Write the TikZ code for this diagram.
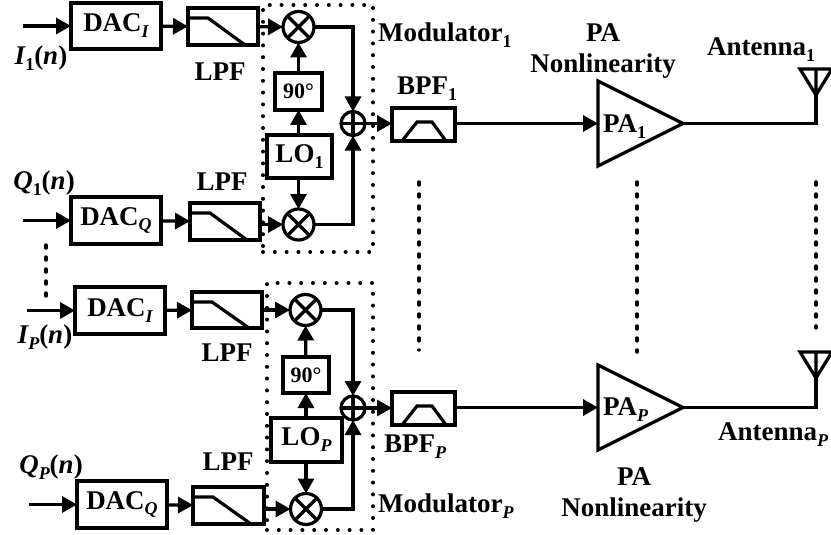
\documentclass[tikz,border=0pt]{standalone}
\usepackage{fontspec}
\setmainfont{Liberation Serif}
\usetikzlibrary{arrows.meta,shapes.geometric}
\newcommand{\lowsub}[1]{\raisebox{-0.22em}{\fontsize{18}{18}\selectfont #1}}
\newcommand{\itsub}[1]{\lowsub{\itshape #1}}
\newcommand{\lpfcurve}[1]{\draw[wire,miter limit=2] ([yshift=-10pt]#1.north west) -- ++(20,0) -- ([xshift=-13pt]#1.south east);}
\newcommand{\bpfcurve}[1]{\draw[wire] ([xshift=10pt]#1.south west) -- ++(15,-19) -- ++(15,0) -- ++(14,19);}
\newcommand{\mixmark}[1]{\draw[wire] (#1.45) -- (#1.225) (#1.135) -- (#1.315);}
\newcommand{\summark}[1]{\draw[wire] (#1.north) -- (#1.south) (#1.west) -- (#1.east);}
\newcommand{\antmark}[1]{\draw[wire,line join=miter] (#1) -- ++(-16,-26) -- ++(32,0) -- cycle (#1) -- ++(0,-26);}
\tikzset{
  wire/.style={line width=3.2pt},
  flow/.style={wire,-{Triangle[length=15pt,width=16pt]}},
  bx/.style 2 args={draw,line width=3.4pt,inner sep=0pt,outer sep=0pt,minimum width=#1 pt,minimum height=#2 pt,font=\fontsize{27}{30}\selectfont\bfseries},
  mix/.style={draw,circle,line width=3.2pt,inner sep=0pt,outer sep=0pt,minimum size=31pt},
  summ/.style={draw,circle,line width=3.2pt,inner sep=0pt,outer sep=0pt,minimum size=24pt},
  amp/.style={draw,isosceles triangle,isosceles triangle stretches,line width=3.2pt,inner sep=0pt,outer sep=0pt,minimum width=85pt,minimum height=85pt,anchor=lower side},
  modbox/.style={draw,line width=4pt,line cap=round,dash pattern=on 0pt off 11.8pt,inner sep=0pt,outer sep=0pt},
  vdots/.style={line width=3.4pt,line cap=round,dash pattern=on 3pt off 9pt},
  lab/.style={inner sep=0pt,font=\fontsize{27}{30}\selectfont\bfseries,align=center},
}
\begin{document}
\begin{tikzpicture}[x=1pt,y=-1pt]
\useasboundingbox (0,0) rectangle (831,535);
% modulators
\node[modbox,minimum width=110pt,minimum height=247pt] (modA) at (318,128.5) {};
\node[modbox,minimum width=106pt,minimum height=247pt] (modB) at (320,406.5) {};
% chain 1
\coordinate (inA) at (23,26);
\coordinate (inB) at (23,220.5);
\node[bx={90}{46}] (dacA) at (116,26) {DAC\itsub{I}};
\node[bx={70}{37}] (lpfA) at (223,26.5) {};
\node[bx={90}{47}] (dacB) at (116,220.5) {DAC\itsub{Q}};
\node[bx={70}{37}] (lpfB) at (225,221.5) {};
\node[mix] (mxA) at (298.5,27) {};
\node[mix] (mxB) at (298.5,224.5) {};
\node[bx={47}{37}] (phA) at (298.5,91.5) {\fontsize{22}{26}\selectfont 90°};
\node[bx={65}{43}] (loA) at (299.5,156.5) {LO\lowsub{1}};
\node[summ] (smA) at (353,123.5) {};
\node[bx={63}{33}] (bpA) at (423.5,124.5) {};
\node[amp] (paA) at (598,123.5) {};
\coordinate (antA) at (816,95);
% chain P
\coordinate (inC) at (27,310.5);
\coordinate (inD) at (29,504.5);
\node[bx={90}{47}] (dacC) at (120,310.5) {DAC\itsub{I}};
\node[bx={70}{36}] (lpfC) at (227,310) {};
\node[bx={90}{47}] (dacD) at (122,504.5) {DAC\itsub{Q}};
\node[bx={71}{37}] (lpfD) at (228.5,505.5) {};
\node[mix] (mxC) at (305.5,310) {};
\node[mix] (mxD) at (306,509) {};
\node[bx={46}{36}] (phB) at (306,375) {\fontsize{22}{26}\selectfont 90°};
\node[bx={71}{44}] (loB) at (306.5,440) {LO\itsub{P}};
\node[summ] (smB) at (353,408) {};
\node[bx={63}{33}] (bpB) at (423.5,408.5) {};
\node[amp] (paB) at (598,407.5) {};
\coordinate (antB) at (816,378);
% marks inside blocks
\lpfcurve{lpfA}\lpfcurve{lpfB}\lpfcurve{lpfC}\lpfcurve{lpfD}
\bpfcurve{bpA}\bpfcurve{bpB}
\mixmark{mxA}\mixmark{mxB}\mixmark{mxC}\mixmark{mxD}
\summark{smA}\summark{smB}
\antmark{antA}\antmark{antB}
% connectors chain 1
\draw[flow] (inA) -- (dacA);
\draw[flow] (dacA) -- (lpfA);
\draw[flow] (lpfA) -- (mxA);
\draw[flow] (inB) -- (dacB);
\draw[flow] (dacB) -- (lpfB);
\draw[flow] (lpfB.east |- mxB) -- (mxB);
\draw[flow] (phA) -- (mxA);
\draw[flow] (phA |- loA.north) -- (phA);
\draw[flow] (mxB |- loA.south) -- (mxB);
\draw[flow] (mxA.east) -| (smA.north);
\draw[flow] (mxB.east) -| (smA.south);
\draw[flow] (smA.east) -- (bpA.west |- smA);
\draw[flow] (bpA.east |- paA.lower side) -- (paA.lower side);
\draw[wire] (paA.apex) -| (antA);
% connectors chain P
\draw[flow] (inC) -- (dacC);
\draw[flow] (dacC) -- (lpfC);
\draw[flow] (lpfC) -- (mxC);
\draw[flow] (inD) -- (dacD);
\draw[flow] (dacD) -- (lpfD);
\draw[flow] (lpfD.east |- mxD) -- (mxD);
\draw[flow] (phB) -- (mxC);
\draw[flow] (phB |- loB.north) -- (phB);
\draw[flow] (mxD |- loB.south) -- (mxD);
\draw[flow] (mxC.east) -| (smB.north);
\draw[flow] (mxD.east) -| (smB.south);
\draw[flow] (smB.east) -- (bpB.west |- smB);
\draw[flow] (bpB.east |- paB.lower side) -- (paB.lower side);
\draw[wire] (paB.apex) -| (antB);
% vertical ellipses
\draw[vdots] (46,245) -- (46,297);
\draw[vdots] (419,182) -- (419,350);
\draw[vdots] (637,182) -- (637,352);
\draw[vdots] (816,182) -- (816,328);
% labels
\node[lab] (tI1) at (41,58) {{\itshape I}\lowsub{1}({\itshape n})};
\node[lab] (tQ1) at (44,183) {{\itshape Q}\lowsub{1}({\itshape n})};
\node[lab] (tIP) at (45,337) {{\itshape I}\itsub{P}({\itshape n})};
\node[lab] (tQP) at (51,467) {{\itshape Q}\itsub{P}({\itshape n})};
\node[lab] (tL1) at (220,72) {LPF};
\node[lab] (tL2) at (222,182) {LPF};
\node[lab] (tL3) at (227,353) {LPF};
\node[lab] (tL4) at (228,462) {LPF};
\node[lab,anchor=west] (tM1) at (378,35) {Modulator\lowsub{1}};
\node[lab,anchor=west] (tMP) at (378,506) {Modulator\itsub{P}};
\node[lab,anchor=west] (tB1) at (397,89) {BPF\lowsub{1}};
\node[lab,anchor=west] (tBP) at (384,447) {BPF\itsub{P}};
\node[lab] (tPA1) at (603,33) {PA};
\node[lab] (tNL1) at (603,66) {Nonlinearity};
\node[lab] (tPA2) at (634,477) {PA};
\node[lab] (tNL2) at (634,510) {Nonlinearity};
\node[lab,anchor=west] (tA1) at (603,127) {PA\lowsub{1}};
\node[lab,anchor=west] (tAP) at (603,410) {PA\itsub{P}};
\node[lab,anchor=west] (tAn1) at (707,50) {Antenna\lowsub{1}};
\node[lab,anchor=west] (tAnP) at (718,435) {Antenna\itsub{P}};
\end{tikzpicture}
\end{document}
